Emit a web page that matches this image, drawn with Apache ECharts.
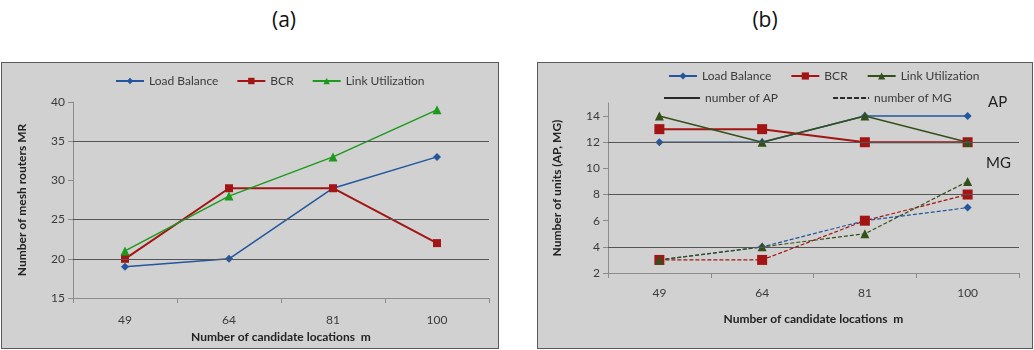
<!DOCTYPE html>
<html>
<head>
<meta charset="utf-8">
<script src="https://cdn.jsdelivr.net/npm/echarts@6/dist/echarts.min.js"></script>
<style>
  html, body { margin: 0; padding: 0; background: #ffffff; width: 1034px; height: 350px; overflow: hidden; }
  .panel { position: absolute; box-sizing: border-box; border: 1px solid #5a5a5a; }
  #chartA { left: 1px; top: 62px; width: 498px; height: 287px; }
  #chartB { left: 537px; top: 62px; width: 496px; height: 287px; }
  .caption { position: absolute; top: 5px; font-family: "Open Sans", "Noto Sans", sans-serif; font-size: 21px; color: #111; width: 60px; text-align: center; }
  #capA { left: 254px; }
  #capB { left: 735px; }
</style>
</head>
<body>
<div class="caption" id="capA">(a)</div>
<div class="caption" id="capB">(b)</div>
<div class="panel" id="chartA"></div>
<div class="panel" id="chartB"></div>
<script>
// Candidate location counts shared by both panels
const categories = ['49', '64', '81', '100'];

// (a) number of mesh routers
const mrLoadBalance = [19, 20, 29, 33];
const mrBCR = [20, 29, 29, 22];
const mrLinkUtil = [21, 28, 33, 39];
const mrGridValues = [20, 25, 35];

// (b) number of access points (solid) and mesh gateways (dashed)
const apLoadBalance = [12, 12, 14, 14];
const apBCR = [13, 13, 12, 12];
const apLinkUtil = [14, 12, 14, 12];
const mgLoadBalance = [3, 4, 6, 7];
const mgBCR = [3, 3, 6, 8];
const mgLinkUtil = [3, 4, 5, 9];
const unitGridValues = [4, 8, 12];

const FONT = 'Lato, "Open Sans", sans-serif';
const BG = '#d1d1d1';
const BLUE = '#22569e';
const RED = '#a31414';
const GREEN_A = '#1c9a1c';
const GREEN_B = '#34501a';
const LABEL = '#3a3a3a';

// legend keys for the line-style explanation row (36 x 2 boxes)
const SOLID_KEY = 'path://M0,0H36V2H0Z';
const DASHED_KEY = 'path://M0,0H5V2H0Z M7,0H12V2H7Z M14,0H19V2H14Z M21,0H26V2H21Z M28,0H33V2H28Z M35,0H36V2H35Z';

function gridLines(values) {
  return {
    silent: true,
    symbol: 'none',
    label: { show: false },
    lineStyle: { color: '#555555', width: 1, type: 'solid' },
    data: values.map(v => ({ yAxis: v }))
  };
}

function xAxisCfg(nameGap, labelMargin) {
  return {
    type: 'category',
    data: categories,
    boundaryGap: true,
    name: 'Number of candidate locations  m',
    nameLocation: 'middle',
    nameGap: nameGap,
    nameTextStyle: { fontFamily: FONT, fontSize: 12, fontWeight: 'bold', color: '#222' },
    axisLine: { lineStyle: { color: '#8c8c8c', width: 1 } },
    axisTick: { show: true, length: 5, lineStyle: { color: '#8c8c8c' } },
    axisLabel: { fontFamily: FONT, fontSize: 12, color: LABEL, margin: labelMargin },
    splitLine: { show: false }
  };
}

function yAxisCfg(name, min, max, interval, nameGap) {
  return {
    type: 'value',
    min: min, max: max, interval: interval,
    name: name,
    nameLocation: 'middle',
    nameGap: nameGap,
    nameTextStyle: { fontFamily: FONT, fontSize: 12, fontWeight: 'bold', color: '#222' },
    axisLine: { show: true, lineStyle: { color: '#8c8c8c', width: 1 } },
    axisTick: { show: true, length: 5, lineStyle: { color: '#8c8c8c' } },
    axisLabel: { fontFamily: FONT, fontSize: 12, color: LABEL, margin: 8,
      showMaxLabel: (max - min) % interval === 0,
      formatter: v => ((v - min) % interval === 0 ? String(v) : '') },
    splitLine: { show: false }
  };
}

function lineSeries(name, data, color, symbol, size, width, dashed) {
  return {
    type: 'line',
    name: name,
    data: data,
    symbol: symbol,
    symbolSize: size,
    z: 3,
    itemStyle: { color: color },
    lineStyle: { color: color, width: width, type: dashed ? [4, 2] : 'solid' },
    animation: false
  };
}

// ---- Panel (a) ----
const chartA = echarts.init(document.getElementById('chartA'), null, { renderer: 'canvas' });
chartA.setOption({
  backgroundColor: BG,
  animation: false,
  legend: {
    left: 108, top: 7,
    itemWidth: 28, itemHeight: 8, itemGap: 18,
    textStyle: { fontFamily: FONT, fontSize: 12, color: LABEL },
    data: ['Load Balance', 'BCR', 'Link Utilization']
  },
  grid: { left: 71, right: 9, top: 39, bottom: 48 },
  xAxis: xAxisCfg(33, 16),
  yAxis: yAxisCfg('Number of mesh routers MR', 15, 40, 5, 45),
  series: [
    { type: 'line', data: [], z: 1, markLine: gridLines(mrGridValues) },
    lineSeries('Load Balance', mrLoadBalance, BLUE, 'diamond', 8, 1.5),
    lineSeries('BCR', mrBCR, RED, 'rect', 8, 2),
    lineSeries('Link Utilization', mrLinkUtil, GREEN_A, 'triangle', 9, 1.5)
  ]
});

// ---- Panel (b) ----
const chartB = echarts.init(document.getElementById('chartB'), null, { renderer: 'canvas' });
chartB.setOption({
  backgroundColor: BG,
  animation: false,
  legend: [
    {
      left: 125, top: 2,
      itemWidth: 28, itemHeight: 9, itemGap: 19,
      textStyle: { fontFamily: FONT, fontSize: 12, color: LABEL },
      data: ['Load Balance', 'BCR', 'Link Utilization']
    },
    {
      left: 121, top: 24,
      itemWidth: 36, itemHeight: 2, itemGap: 55,
      textStyle: { fontFamily: FONT, fontSize: 12, color: LABEL },
      data: [
        { name: 'number of AP', icon: SOLID_KEY },
        { name: 'number of MG', icon: DASHED_KEY }
      ]
    }
  ],
  grid: { left: 70, right: 13, top: 40, bottom: 75 },
  xAxis: xAxisCfg(40, 14),
  yAxis: yAxisCfg('Number of units (AP, MG)', 2, 15, 2, 45),
  graphic: [
    { type: 'text', left: 450, top: 32, style: { text: 'AP', fontFamily: FONT, fontSize: 15, fill: '#222' } },
    { type: 'text', left: 448, top: 93, style: { text: 'MG', fontFamily: FONT, fontSize: 15, fill: '#222' } }
  ],
  series: [
    { type: 'line', data: [], z: 1, markLine: gridLines(unitGridValues) },
    lineSeries('Load Balance', apLoadBalance, BLUE, 'diamond', 8, 1.5),
    lineSeries('BCR', apBCR, RED, 'rect', 10, 2),
    lineSeries('Link Utilization', apLinkUtil, GREEN_B, 'triangle', 9, 1.5),
    lineSeries('Load Balance', mgLoadBalance, BLUE, 'diamond', 8, 1.2, true),
    lineSeries('BCR', mgBCR, RED, 'rect', 10, 1.2, true),
    lineSeries('Link Utilization', mgLinkUtil, GREEN_B, 'triangle', 9, 1.2, true),
    // style-explanation entries: the solid and dashed keys shown in the second legend row
    { type: 'scatter', name: 'number of AP', data: [], itemStyle: { color: '#000000' } },
    { type: 'scatter', name: 'number of MG', data: [], itemStyle: { color: '#000000' } }
  ]
});
</script>
</body>
</html>
